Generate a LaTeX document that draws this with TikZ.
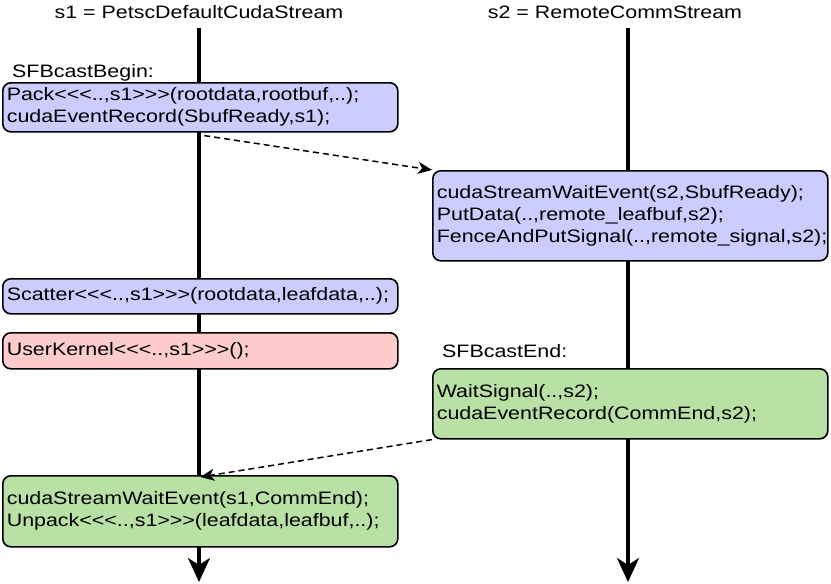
\documentclass[tikz,border=0pt]{standalone}
\usepackage{fontspec}
\newfontfamily\callfont{Liberation Sans}[FakeStretch=1.19]
\usetikzlibrary{arrows.meta,positioning}
\definecolor{callblue}{HTML}{CCCCFF}
\definecolor{callred}{HTML}{FFCCCC}
\definecolor{callgreen}{HTML}{B9E0A5}
\begin{document}
\begin{tikzpicture}[
    x=1pt, y=-1pt,
    font=\callfont\fontsize{18}{22}\selectfont,
    call/.style={draw, line width=1.6pt, rounded corners=8pt, anchor=north west, inner xsep=4pt, inner ysep=2pt, text width=387pt, align=left},
    lbl/.style={anchor=base west, inner sep=0pt},
    ttl/.style={anchor=base, inner sep=0pt},
    stream/.style={line width=3.5pt, -{Stealth[length=24pt, width=22pt, inset=7pt]}},
    sig/.style={dashed, line width=1.5pt, dash pattern=on 6pt off 4pt, -{Stealth[length=14pt, width=12pt, inset=4pt]}}
]
\useasboundingbox (0,0) rectangle (831,584);

% stream titles and time lines
\node[ttl] (t1) at (199,18) {s1 = PetscDefaultCudaStream};
\node[ttl] (t2) at (615,18) {s2 = RemoteCommStream};
\coordinate (top1) at (199,28);
\coordinate (end1) at (199,582);
\coordinate (top2) at (628,28);
\coordinate (end2) at (628,582);
\draw[stream] (top1) -- (end1);
\draw[stream] (top2) -- (end2);

% SFBcastBegin
\node[lbl] (begin) at (12,77) {SFBcastBegin:};
\node[call, fill=callblue, minimum height=49pt] (pack) at (2,82)
    {Pack<<<..,s1>>>(rootdata,rootbuf,..);\\cudaEventRecord(SbufReady,s1);};
\node[call, fill=callblue, minimum height=90pt] (put) at (432,170)
    {cudaStreamWaitEvent(s2,SbufReady);\\PutData(..,remote\_leafbuf,s2);\\FenceAndPutSignal(..,remote\_signal,s2);};
\node[call, fill=callblue, minimum height=35pt] (scatter) at (2,278)
    {Scatter<<<..,s1>>>(rootdata,leafdata,..);};
\node[call, fill=callred, minimum height=36pt] (user) at (2,332)
    {UserKernel<<<..,s1>>>();};

% SFBcastEnd
\node[lbl] (end) at (442,357) {SFBcastEnd:};
\node[call, fill=callgreen, minimum height=70pt] (wait) at (432,368)
    {WaitSignal(..,s2);\\cudaEventRecord(CommEnd,s2);};
\node[call, fill=callgreen, minimum height=71pt] (unpack) at (2,475)
    {cudaStreamWaitEvent(s1,CommEnd);\\Unpack<<<..,s1>>>(leafdata,leafbuf,..);};

% events between the streams
\draw[sig] ([xshift=4pt, yshift=-3pt]pack.south) -- (put.north west);
\draw[sig] (wait.south west) -- ([yshift=-2pt]unpack.north);
\end{tikzpicture}
\end{document}
